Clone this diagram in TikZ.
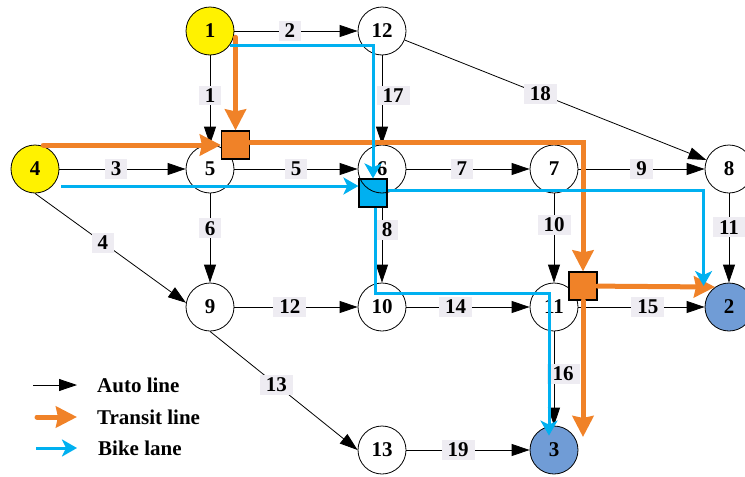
\documentclass[tikz,border=0pt]{standalone}
\usepackage{fontspec}
\setmainfont{Liberation Serif}
\usetikzlibrary{arrows.meta,calc}
\definecolor{transorange}{RGB}{240,130,40}
\definecolor{bikeblue}{RGB}{0,176,240}
\definecolor{sinkblue}{RGB}{112,156,214}
\definecolor{labelgray}{RGB}{238,236,242}

\begin{document}
\begin{tikzpicture}[x=1pt,y=-1pt,
  zone/.style={circle,draw,line width=0.8pt,minimum size=48pt,inner sep=0pt,font=\fontsize{21}{24}\selectfont\bfseries},
  srczone/.style={zone,fill=yellow},
  sinkzone/.style={zone,fill=sinkblue},
  hub/.style={draw,line width=1.2pt,minimum size=28pt,inner sep=0pt},
  linkno/.style={fill=labelgray,inner xsep=6pt,inner ysep=3pt,pos=0.45,font=\fontsize{21}{24}\selectfont\bfseries},
  autoline/.style={line width=0.8pt,-{Triangle[length=18pt,width=12pt]}},
  transline/.style={line width=5pt,draw=transorange,line cap=round,-{Stealth[length=21pt,width=21pt,inset=2pt]}},
  bikeline/.style={line width=3pt,draw=bikeblue,-{Stealth[length=15pt,width=17pt,inset=4pt]}},
  legtext/.style={anchor=west,inner sep=0pt,font=\fontsize{21}{24}\selectfont\bfseries}]
\useasboundingbox (0,0) rectangle (745,477);

\node[hub,fill=bikeblue] (hubC) at (373,193) {};

\node[srczone] (n1) at (210,31) {1};
\node[zone] (n12) at (382,31) {12};
\node[srczone] (n4) at (35,169) {4};
\node[zone] (n5) at (210,169) {5};
\node[zone] (n6) at (382,169) {6};
\node[zone] (n7) at (554,169) {7};
\node[zone] (n8) at (729,169) {8};
\node[zone] (n9) at (210,307) {9};
\node[zone] (n10) at (382,307) {10};
\node[zone] (n11) at (554,307) {11};
\node[sinkzone] (n2) at (729,307) {2};
\node[zone] (n13) at (382,450) {13};
\node[sinkzone] (n3) at (554,450) {3};

\draw[autoline] (n1) -- node[linkno]{2} (n12);
\draw[autoline] (n1) -- node[linkno]{1} (n5);
\draw[autoline] (n4) -- node[linkno]{3} (n5);
\draw[autoline] (n4.south) -- node[linkno]{4} (n9.170);
\draw[autoline] (n5) -- node[linkno,pos=0.5]{5} (n6);
\draw[autoline] (n5) -- node[linkno,pos=0.39]{6} (n9);
\draw[autoline] (n6) -- node[linkno]{7} (n7);
\draw[autoline] (n6 |- hubC.south) -- node[linkno,pos=0.3,xshift=5pt]{8} (n10);
\draw[autoline] (n7) -- node[linkno,pos=0.5]{9} (n8);
\draw[autoline] (n7) -- node[linkno,pos=0.35]{10} (n11);
\draw[autoline] (n8) -- node[linkno,pos=0.38]{11} (n2);
\draw[autoline] (n9) -- node[linkno]{12} (n10);
\draw[autoline] (n9.south) -- node[linkno]{13} (n13.west);
\draw[autoline] (n10) -- node[linkno,pos=0.4]{14} (n11);
\draw[autoline] (n11) -- node[linkno,pos=0.55]{15} (n2);
\draw[autoline] (n11) -- node[linkno,xshift=9pt]{16} (n3);
\draw[autoline] (n12) -- node[linkno,xshift=11pt]{17} (n6);
\draw[autoline] (n12) -- node[linkno]{18} (n8);
\draw[autoline] (n13) -- node[linkno,pos=0.42]{19} (n3);

\node[hub,fill=transorange] (hubA) at (235.5,145) {};
\node[hub,fill=transorange] (hubB) at (583,286) {};

\coordinate (tE) at (583,437);
\draw[transline] (n4.70 |- hubA) -- (hubA);
\draw[transline] (hubA |- n1.-15) -- (hubA);
\draw[transline] ([yshift=3pt]hubA.east) -| (hubB);
\draw[transline] (hubB) -- (n2.125);
\draw[transline] (hubB) -- (tE);

\coordinate (bB) at ([shift={(2pt,-17pt)}]n4.east);
\coordinate (bC) at ($(n2.west)+(-1,-21)$);
\coordinate (bD) at (549,293);
\coordinate (bE) at ([yshift=-10pt]n3.north);
\draw[bikeline] (n1.-36) -| (hubC);
\draw[bikeline] (bB) -- (bB -| hubC.west);
\draw[bikeline] ([yshift=3pt]hubC.east) -| (bC);
\draw[bikeline] ([xshift=2pt]hubC.south) |- (bD) -- (bD |- bE);

\node[legtext] (legauto) at (97,385) {Auto line};
\node[legtext] (legtrans) at (97,417) {Transit line};
\node[legtext] (legbike) at (98,448) {Bike lane};
\coordinate (la) at (33,385);
\coordinate (lt) at (37,417);
\coordinate (lb) at (36,448);
\draw[autoline] (la) -- ([xshift=-20pt]legauto.west);
\draw[transline] (lt) -- ([xshift=-20pt]legtrans.west);
\draw[bikeline] (lb) -- ([xshift=-21pt]legbike.west);
\end{tikzpicture}
\end{document}
